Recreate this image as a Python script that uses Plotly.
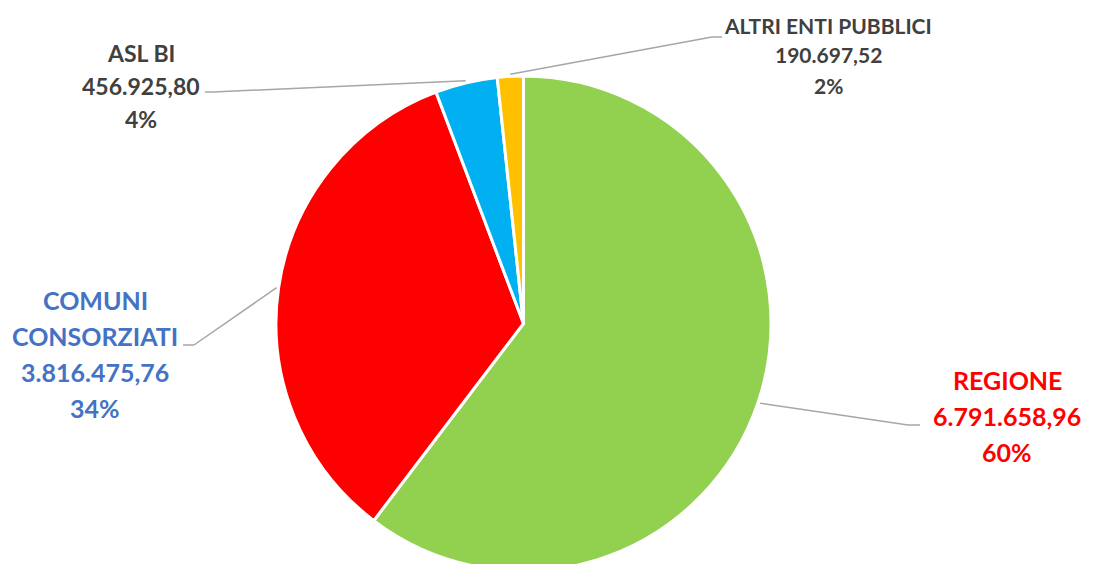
import math
import plotly.graph_objects as go

# ---- data ----
labels = ["REGIONE", "COMUNI CONSORZIATI", "ASL BI", "ALTRI ENTI PUBBLICI"]
label_lines = [["REGIONE"], ["COMUNI", "CONSORZIATI"], ["ASL BI"], ["ALTRI ENTI PUBBLICI"]]
values = [6791658.96, 3816475.76, 456925.80, 190697.52]
value_text = ["6.791.658,96", "3.816.475,76", "456.925,80", "190.697,52"]
pct_text = ["60%", "34%", "4%", "2%"]
colors = ["#92D050", "#FF0000", "#00B0F0", "#FFC000"]
text_colors = ["#FF0000", "#4472C4", "#404040", "#404040"]

# ---- layout (pixels) ----
W, H = 1094, 580
ML, MR, MT, MB = 0, 47, 76, 9
PW, PH = W - ML - MR, H - MT - MB
CX, CY = ML + PW / 2, MT + PH / 2
R = min(PW, PH) / 2

# label placement: (text centre x, first line y, line spacing, font size), elbow, end of leader
label_pos = [
    (1007, 380, 36, 25, (908, 425), (920, 425)),
    (95, 300, 36, 25, (194, 345), (183, 345)),
    (141, 53, 33, 23, (213, 92), (205, 92)),
    (828, 25, 30, 21, (712, 37), (722, 37)),
]

def px2paper(x, y):
    return (x - ML) / PW, 1 - (y - MT) / PH

fig = go.Figure(go.Pie(
    labels=labels, values=values, sort=False, direction="clockwise", rotation=0,
    marker=dict(colors=colors, line=dict(color="white", width=3)),
    textinfo="none", hoverinfo="skip", showlegend=False,
))

total = sum(values)
cum = 0
shapes, annotations = [], []
for i, v in enumerate(values):
    mid = (cum + v / 2) / total * 2 * math.pi
    cum += v
    sx = CX + (R + 2) * math.sin(mid)
    sy = CY - (R + 2) * math.cos(mid)
    tx, ty0, dy, fs, elbow, end = label_pos[i]
    pts = [(sx, sy), elbow, end]
    for a, b in zip(pts[:-1], pts[1:]):
        x0, y0 = px2paper(*a)
        x1, y1 = px2paper(*b)
        shapes.append(dict(type="line", xref="paper", yref="paper", x0=x0, y0=y0, x1=x1, y1=y1,
                           line=dict(color="#A6A6A6", width=1.5)))
    lines = label_lines[i] + [value_text[i], pct_text[i]]
    for k, t in enumerate(lines):
        xp, yp = px2paper(tx, ty0 + k * dy)
        annotations.append(dict(text="<b>" + t + "</b>", x=xp, y=yp, xref="paper", yref="paper",
                                xanchor="center", yanchor="middle", showarrow=False,
                                font=dict(family="Lato", size=fs, color=text_colors[i])))

fig.update_layout(
    width=W, height=H, margin=dict(l=ML, r=MR, t=MT, b=MB),
    paper_bgcolor="white", plot_bgcolor="white",
    shapes=shapes, annotations=annotations,
)

fig.write_html(
    "out.html",
    config={"displayModeBar": False},
    post_script="document.body.style.margin='0';document.body.style.overflow='hidden';document.documentElement.style.overflow='hidden';",
)
